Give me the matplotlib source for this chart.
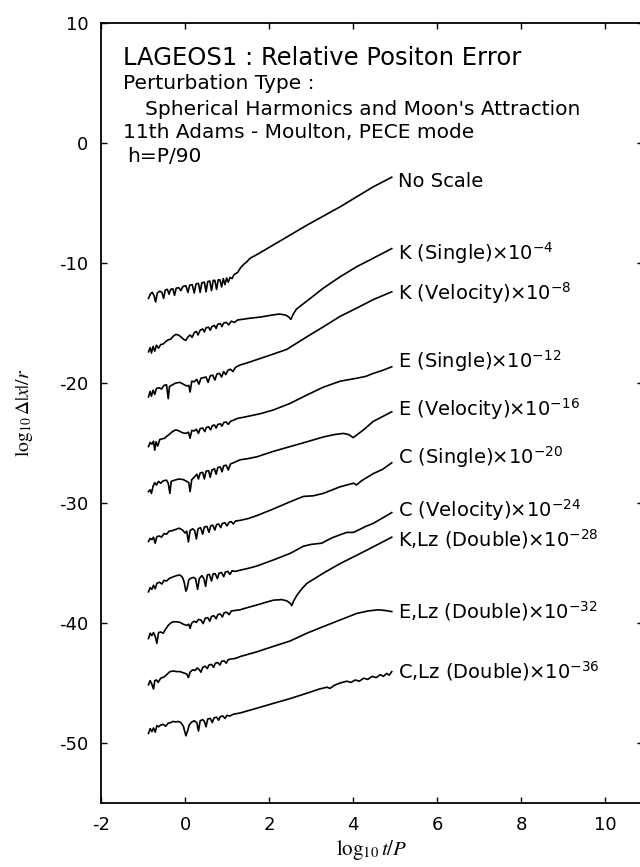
import matplotlib
matplotlib.use("Agg")
import matplotlib.pyplot as plt

plt.rcParams["font.family"] = ["DejaVu Sans"]
plt.rcParams["mathtext.fontset"] = "dejavusans"
plt.rcParams["axes.unicode_minus"] = False

# curves: x = log10 t/P, y = log10 |dx|/r (already shifted)
x_noscale = [-0.87, -0.82, -0.78, -0.74, -0.70, -0.66, -0.60, -0.55, -0.51, -0.47, -0.42, -0.38, -0.34, -0.29,
             -0.25, -0.21, -0.15, -0.10, -0.05, 0.02, 0.07, 0.11, 0.17, 0.22, 0.26, 0.32, 0.36, 0.40, 0.46, 0.50,
             0.54, 0.59, 0.63, 0.67, 0.71, 0.75, 0.79, 0.83, 0.87, 0.91, 0.95, 0.99, 1.03, 1.07, 1.12, 1.17, 1.25,
             1.32, 1.40, 1.47, 1.55, 1.71, 2.10, 2.90, 3.70, 4.48, 4.92]
y_noscale = [-12.95, -12.55, -12.45, -12.7, -13.25, -12.5, -12.35, -12.45, -12.95, -12.25, -12.2, -12.6, -12.2,
             -12.15, -12.7, -12.1, -12.05, -12.3, -11.95, -11.9, -12.45, -11.85, -11.8, -12.5, -11.75, -11.7, -12.45,
             -11.65, -11.6, -12.4, -11.55, -11.5, -12.3, -11.45, -11.45, -12.2, -11.4, -11.4, -12.0, -11.3, -11.8,
             -11.25, -11.6, -11.2, -11.3, -10.95, -10.8, -10.4, -10.1, -9.9, -9.6, -9.3, -8.5, -6.85, -5.3, -3.65,
             -2.85]

x_k_single = [-0.87, -0.83, -0.80, -0.76, -0.72, -0.68, -0.63, -0.58, -0.52, -0.46, -0.40, -0.34, -0.28, -0.22,
              -0.16, -0.10, -0.04, 0.02, 0.06, 0.12, 0.17, 0.22, 0.27, 0.31, 0.36, 0.42, 0.46, 0.50, 0.56, 0.60,
              0.64, 0.70, 0.74, 0.78, 0.84, 0.88, 0.92, 0.98, 1.04, 1.10, 1.18, 1.25, 1.35, 1.55, 1.80, 2.05, 2.25,
              2.40, 2.47, 2.52, 2.57, 2.65, 2.74, 3.00, 3.29, 3.69, 4.09, 4.48, 4.92]
y_k_single = [-17.4, -17.05, -17.5, -16.95, -17.35, -16.85, -17.1, -16.8, -16.75, -16.55, -16.4, -16.35, -16.1,
              -15.95, -16.0, -16.15, -16.35, -16.45, -16.2, -16.0, -16.2, -15.8, -15.7, -16.0, -15.6, -15.5, -15.75,
              -15.4, -15.35, -15.6, -15.3, -15.2, -15.45, -15.1, -15.05, -15.3, -15.0, -14.95, -15.15, -14.85,
              -14.95, -14.75, -14.7, -14.6, -14.5, -14.35, -14.25, -14.35, -14.5, -14.7, -14.3, -13.85, -13.6,
              -12.9, -12.1, -11.15, -10.3, -9.6, -8.8]

x_k_vel = [-0.87, -0.83, -0.80, -0.76, -0.72, -0.68, -0.62, -0.56, -0.50, -0.44, -0.40, -0.37, -0.30, -0.22,
           -0.12, -0.04, 0.04, 0.09, 0.12, 0.16, 0.22, 0.28, 0.33, 0.38, 0.44, 0.50, 0.55, 0.60, 0.66, 0.71, 0.76,
           0.82, 0.87, 0.92, 0.97, 1.02, 1.08, 1.14, 1.20, 1.31, 1.50, 1.71, 2.05, 2.42, 2.90, 3.30, 3.69, 4.09,
           4.48, 4.92]
y_k_vel = [-21.15, -20.7, -21.1, -20.6, -20.95, -20.45, -20.4, -20.5, -20.2, -20.15, -21.3, -20.3, -20.15, -20.0,
           -19.95, -20.1, -20.25, -20.2, -20.75, -19.85, -19.9, -19.7, -20.1, -19.6, -19.55, -19.5, -19.95, -19.4,
           -19.35, -19.75, -19.25, -19.2, -19.5, -19.05, -19.3, -18.95, -18.85, -19.05, -18.7, -18.5, -18.3,
           -18.05, -17.65, -17.2, -16.15, -15.3, -14.45, -13.75, -13.05, -12.4]

x_e_single = [-0.87, -0.83, -0.79, -0.75, -0.72, -0.69, -0.65, -0.60, -0.54, -0.48, -0.44, -0.38, -0.30, -0.22,
              -0.14, -0.06, 0.02, 0.08, 0.12, 0.16, 0.22, 0.27, 0.32, 0.36, 0.42, 0.47, 0.51, 0.56, 0.61, 0.65,
              0.70, 0.74, 0.78, 0.84, 0.88, 0.92, 0.98, 1.03, 1.08, 1.15, 1.25, 1.47, 1.80, 2.10, 2.50, 2.90, 3.29,
              3.69, 4.09, 4.30, 4.48, 4.70, 4.92]
y_e_single = [-25.3, -24.95, -25.1, -24.85, -25.6, -24.9, -25.25, -24.7, -24.65, -24.6, -24.45, -24.3, -24.05,
              -23.9, -24.0, -24.15, -24.2, -24.1, -24.6, -23.95, -24.0, -23.85, -24.2, -23.8, -23.75, -24.05, -23.7,
              -23.65, -23.9, -23.55, -23.5, -23.75, -23.45, -23.4, -23.6, -23.3, -23.25, -23.45, -23.2, -23.1,
              -22.95, -22.8, -22.55, -22.25, -21.7, -21.0, -20.35, -19.85, -19.6, -19.45, -19.2, -18.95, -18.65]

x_e_vel = [-0.87, -0.83, -0.80, -0.76, -0.72, -0.68, -0.63, -0.58, -0.52, -0.44, -0.40, -0.36, -0.33, -0.25,
           -0.15, -0.04, 0.04, 0.09, 0.12, 0.16, 0.22, 0.28, 0.32, 0.36, 0.42, 0.46, 0.50, 0.56, 0.60, 0.64, 0.70,
           0.74, 0.78, 0.84, 0.88, 0.92, 0.98, 1.03, 1.08, 1.15, 1.31, 1.50, 1.71, 2.10, 2.50, 2.90, 3.29, 3.55,
           3.77, 3.90, 4.00, 4.08, 4.25, 4.48, 4.70, 4.92]
y_e_vel = [-29.05, -28.9, -29.2, -28.6, -28.3, -28.5, -28.2, -28.35, -28.15, -28.1, -28.35, -29.2, -28.2, -28.1,
           -28.0, -28.05, -28.2, -28.3, -29.05, -28.05, -27.85, -27.6, -28.0, -27.5, -27.45, -28.0, -27.35, -27.3,
           -27.85, -27.25, -27.15, -27.6, -27.05, -27.0, -27.4, -26.9, -26.85, -27.25, -26.75, -26.65, -26.4,
           -26.3, -26.15, -25.7, -25.3, -24.9, -24.5, -24.3, -24.2, -24.3, -24.55, -24.35, -23.9, -23.2, -22.8,
           -22.4]

x_c_single = [-0.87, -0.83, -0.79, -0.75, -0.71, -0.67, -0.61, -0.56, -0.50, -0.44, -0.38, -0.30, -0.22, -0.14,
              -0.06, 0.00, 0.04, 0.08, 0.12, 0.18, 0.23, 0.27, 0.31, 0.37, 0.42, 0.46, 0.52, 0.57, 0.61, 0.66,
              0.71, 0.75, 0.80, 0.85, 0.89, 0.95, 1.00, 1.05, 1.10, 1.15, 1.20, 1.31, 1.50, 1.71, 2.10, 2.50, 2.82,
              3.05, 3.29, 3.69, 4.01, 4.08, 4.20, 4.48, 4.70, 4.92]
y_c_single = [-33.2, -32.95, -33.05, -32.85, -33.35, -32.8, -32.75, -32.85, -32.55, -32.6, -32.35, -32.3, -32.2,
              -32.1, -32.25, -32.5, -32.35, -33.25, -32.3, -32.15, -32.3, -33.0, -32.15, -32.05, -32.6, -32.0,
              -31.95, -32.45, -31.9, -31.85, -32.25, -31.8, -31.75, -32.05, -31.7, -31.65, -31.9, -31.6, -31.55,
              -31.75, -31.5, -31.45, -31.3, -31.05, -30.5, -29.9, -29.45, -29.4, -29.2, -28.65, -28.35, -28.5,
              -28.15, -27.55, -27.2, -26.65]

x_c_vel = [-0.87, -0.83, -0.79, -0.75, -0.71, -0.67, -0.61, -0.55, -0.50, -0.44, -0.38, -0.28, -0.20, -0.12,
           -0.06, -0.02, 0.02, 0.05, 0.09, 0.15, 0.20, 0.25, 0.30, 0.34, 0.40, 0.45, 0.49, 0.53, 0.58, 0.63, 0.67,
           0.72, 0.77, 0.81, 0.87, 0.92, 0.96, 1.02, 1.07, 1.12, 1.20, 1.31, 1.50, 1.71, 2.10, 2.50, 2.82, 3.00,
           3.25, 3.50, 3.69, 3.85, 4.01, 4.10, 4.30, 4.48, 4.70, 4.92]
y_c_vel = [-37.4, -37.05, -37.2, -36.85, -37.15, -36.7, -36.6, -36.75, -36.45, -36.5, -36.3, -36.15, -36.05,
           -36.0, -36.2, -36.6, -37.35, -37.1, -36.4, -36.25, -36.2, -36.3, -37.2, -36.3, -36.05, -36.3, -36.95,
           -36.0, -35.95, -36.5, -35.9, -35.9, -36.3, -35.85, -35.8, -36.15, -35.75, -35.7, -35.95, -35.65, -35.7,
           -35.6, -35.45, -35.25, -34.75, -34.2, -33.6, -33.45, -33.35, -32.9, -32.65, -32.45, -32.45, -32.3,
           -31.95, -31.7, -31.25, -30.8]

x_k_lz = [-0.87, -0.83, -0.79, -0.75, -0.71, -0.67, -0.63, -0.58, -0.52, -0.46, -0.40, -0.34, -0.28, -0.20,
          -0.12, -0.04, 0.04, 0.09, 0.12, 0.16, 0.22, 0.27, 0.32, 0.38, 0.43, 0.48, 0.54, 0.59, 0.63, 0.69, 0.74,
          0.78, 0.84, 0.89, 0.93, 0.99, 1.05, 1.10, 1.20, 1.31, 1.50, 1.71, 1.90, 2.10, 2.30, 2.42, 2.50, 2.54,
          2.58, 2.66, 2.78, 2.90, 3.29, 3.69, 4.09, 4.48, 4.92]
y_k_lz = [-41.3, -40.85, -41.05, -40.8, -41.1, -41.7, -40.8, -40.75, -40.85, -40.5, -40.2, -40.0, -39.9, -39.9,
          -39.95, -40.1, -40.2, -40.1, -40.45, -40.0, -39.85, -39.95, -39.7, -39.75, -40.05, -39.6, -39.55, -39.85,
          -39.45, -39.4, -39.65, -39.3, -39.25, -39.5, -39.15, -39.1, -39.3, -39.0, -38.95, -38.9, -38.7, -38.5,
          -38.3, -38.1, -38.05, -38.15, -38.35, -38.55, -38.2, -37.7, -37.15, -36.7, -35.85, -35.05, -34.35,
          -33.65, -32.85]

x_e_lz = [-0.87, -0.83, -0.79, -0.75, -0.72, -0.68, -0.64, -0.58, -0.50, -0.42, -0.36, -0.28, -0.20, -0.12,
          -0.04, 0.04, 0.08, 0.12, 0.18, 0.24, 0.29, 0.34, 0.38, 0.42, 0.48, 0.53, 0.57, 0.63, 0.68, 0.72, 0.78,
          0.83, 0.87, 0.93, 0.98, 1.03, 1.10, 1.20, 1.31, 1.71, 2.10, 2.50, 2.90, 3.29, 3.69, 4.09, 4.35, 4.60,
          4.75, 4.92]
y_e_lz = [-45.15, -44.8, -45.1, -45.5, -44.8, -44.75, -44.95, -44.6, -44.5, -44.25, -44.05, -44.0, -44.05, -44.05,
          -44.15, -44.25, -44.55, -44.1, -43.9, -43.95, -43.75, -43.9, -44.1, -43.7, -43.6, -43.8, -43.5, -43.45,
          -43.7, -43.35, -43.3, -43.5, -43.2, -43.15, -43.35, -43.05, -43.0, -42.95, -42.8, -42.4, -41.95, -41.5,
          -40.85, -40.3, -39.75, -39.2, -39.0, -38.9, -38.95, -39.05]

x_c_lz = [-0.87, -0.83, -0.79, -0.75, -0.71, -0.67, -0.63, -0.58, -0.52, -0.46, -0.40, -0.34, -0.28, -0.22,
          -0.16, -0.10, -0.04, 0.02, 0.06, 0.10, 0.16, 0.22, 0.28, 0.32, 0.36, 0.42, 0.46, 0.50, 0.54, 0.60, 0.65,
          0.69, 0.75, 0.80, 0.84, 0.90, 0.95, 1.00, 1.07, 1.15, 1.31, 1.71, 2.10, 2.50, 2.90, 3.20, 3.38, 3.45,
          3.55, 3.69, 3.85, 3.95, 4.05, 4.15, 4.25, 4.35, 4.45, 4.55, 4.65, 4.72, 4.80, 4.86, 4.92]
y_c_lz = [-49.2, -48.8, -49.05, -48.75, -49.1, -48.55, -48.65, -48.5, -48.45, -48.6, -48.35, -48.3, -48.2, -48.25,
          -48.2, -48.3, -48.6, -49.4, -49.0, -48.5, -48.25, -48.15, -48.3, -49.0, -48.15, -48.05, -48.2, -48.65,
          -48.0, -47.95, -48.3, -47.9, -47.85, -48.1, -47.8, -47.75, -47.95, -47.7, -47.75, -47.6, -47.5, -47.1,
          -46.7, -46.3, -45.85, -45.5, -45.35, -45.45, -45.2, -45.0, -44.85, -44.95, -44.75, -44.85, -44.6, -44.7,
          -44.45, -44.55, -44.3, -44.45, -44.2, -44.35, -44.05]

curve_labels = ["No Scale", "K (Single)×10$^{-4}$", "K (Velocity)×10$^{-8}$", "E (Single)×10$^{-12}$",
                "E (Velocity)×10$^{-16}$", "C (Single)×10$^{-20}$", "C (Velocity)×10$^{-24}$",
                "K,Lz (Double)×10$^{-28}$", "E,Lz (Double)×10$^{-32}$", "C,Lz (Double)×10$^{-36}$"]
label_y = [-3.7, -9.7, -13.05, -18.75, -22.75, -26.7, -31.15, -33.65, -39.65, -44.65]

header = ["LAGEOS1 : Relative Positon Error", "Perturbation Type :",
          "Spherical Harmonics and Moon's Attraction", "11th Adams - Moulton, PECE mode", "h=P/90"]

curves = [(x_noscale, y_noscale), (x_k_single, y_k_single), (x_k_vel, y_k_vel), (x_e_single, y_e_single),
          (x_e_vel, y_e_vel), (x_c_single, y_c_single), (x_c_vel, y_c_vel), (x_k_lz, y_k_lz),
          (x_e_lz, y_e_lz), (x_c_lz, y_c_lz)]

fig = plt.figure(figsize=(6.4, 8.67), dpi=100)
ax = fig.add_axes([101 / 640, 64 / 867, 542 / 640, 780 / 867])

for (xs, ys), lab, ly in zip(curves, curve_labels, label_y):
    ax.plot(xs, ys, color="black", lw=1.2)
    ax.text(5.08, ly, lab, fontsize=14, va="baseline", ha="left")

# header block in the upper left
ax.text(-1.47, 6.5, header[0], fontsize=17.5, va="baseline")
ax.text(-1.47, 4.5, header[1], fontsize=14.5, va="baseline")
ax.text(-0.95, 2.33, header[2], fontsize=14.5, va="baseline")
ax.text(-1.47, 0.42, header[3], fontsize=14.5, va="baseline")
ax.text(-1.39, -1.58, header[4], fontsize=14.5, va="baseline")

ax.set_xlim(-2, 10.9)
ax.set_ylim(-55, 10)
ax.set_xticks([-2, 0, 2, 4, 6, 8, 10])
ax.set_yticks([10, 0, -10, -20, -30, -40, -50])
ax.tick_params(direction="in", top=True, right=True, length=4, width=1, labelsize=13, pad=9)
for s in ax.spines.values():
    s.set_linewidth(1.3)

ax.set_xlabel(r"$\log_{10}t/P$", fontsize=15, math_fontfamily="stix", labelpad=3)
ax.set_ylabel(r"$\log_{10}\Delta|x|/r$", fontsize=14, math_fontfamily="stix")
ax.yaxis.set_label_coords(-0.122, 0.50)

fig.savefig("out.png", dpi=100)
